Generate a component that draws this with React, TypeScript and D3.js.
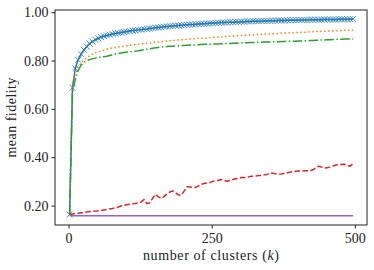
import React from "react";
import * as d3 from "d3";

const kValues = [
  1, 6, 11, 16, 21, 26, 31, 36, 41, 46,
  51, 56, 61, 66, 71, 76, 81, 86, 91, 96,
  101, 106, 111, 116, 121, 126, 131, 136, 141, 146,
  151, 156, 161, 166, 171, 176, 181, 186, 191, 196,
  201, 206, 211, 216, 221, 226, 231, 236, 241, 246,
  251, 256, 261, 266, 271, 276, 281, 286, 291, 296,
  301, 306, 311, 316, 321, 326, 331, 336, 341, 346,
  351, 356, 361, 366, 371, 376, 381, 386, 391, 396,
  401, 406, 411, 416, 421, 426, 431, 436, 441, 446,
  451, 456, 461, 466, 471, 476, 481, 486, 491, 496,
];

const blueSeries = [
  0.165, 0.690, 0.770, 0.805, 0.828, 0.846, 0.860, 0.872, 0.881, 0.888,
  0.894, 0.899, 0.903, 0.906, 0.909, 0.912, 0.914, 0.916, 0.918, 0.920,
  0.922, 0.924, 0.926, 0.927, 0.929, 0.930, 0.932, 0.933, 0.935, 0.936,
  0.938, 0.939, 0.940, 0.942, 0.943, 0.944, 0.945, 0.946, 0.947, 0.948,
  0.949, 0.950, 0.951, 0.951, 0.952, 0.953, 0.954, 0.954, 0.955, 0.956,
  0.957, 0.957, 0.958, 0.959, 0.959, 0.960, 0.961, 0.961, 0.962, 0.962,
  0.963, 0.963, 0.964, 0.964, 0.965, 0.965, 0.965, 0.966, 0.966, 0.966,
  0.967, 0.967, 0.967, 0.968, 0.968, 0.968, 0.969, 0.969, 0.969, 0.969,
  0.970, 0.970, 0.970, 0.970, 0.971, 0.971, 0.971, 0.971, 0.971, 0.972,
  0.972, 0.972, 0.972, 0.972, 0.973, 0.973, 0.973, 0.973, 0.973, 0.974,
];

const orangeSeries = [
  0.165, 0.700, 0.748, 0.775, 0.792, 0.805, 0.815, 0.822, 0.828, 0.834,
  0.838, 0.842, 0.845, 0.849, 0.852, 0.854, 0.856, 0.858, 0.860, 0.861,
  0.863, 0.865, 0.866, 0.868, 0.869, 0.871, 0.872, 0.874, 0.875, 0.876,
  0.878, 0.879, 0.880, 0.882, 0.883, 0.884, 0.885, 0.886, 0.887, 0.888,
  0.889, 0.890, 0.891, 0.892, 0.893, 0.894, 0.894, 0.895, 0.896, 0.897,
  0.898, 0.899, 0.899, 0.900, 0.901, 0.902, 0.903, 0.903, 0.904, 0.905,
  0.906, 0.906, 0.907, 0.908, 0.908, 0.909, 0.910, 0.911, 0.911, 0.912,
  0.912, 0.913, 0.914, 0.914, 0.915, 0.915, 0.916, 0.917, 0.917, 0.918,
  0.918, 0.919, 0.919, 0.920, 0.921, 0.921, 0.922, 0.922, 0.923, 0.923,
  0.924, 0.924, 0.925, 0.925, 0.926, 0.926, 0.927, 0.927, 0.928, 0.928,
];

const greenSeries = [
  0.165, 0.670, 0.725, 0.760, 0.783, 0.795, 0.801, 0.806, 0.810, 0.812,
  0.815, 0.817, 0.818, 0.820, 0.823, 0.826, 0.829, 0.831, 0.833, 0.835,
  0.837, 0.838, 0.840, 0.841, 0.843, 0.845, 0.847, 0.849, 0.851, 0.853,
  0.855, 0.856, 0.858, 0.859, 0.860, 0.861, 0.861, 0.862, 0.863, 0.864,
  0.864, 0.865, 0.866, 0.866, 0.867, 0.867, 0.868, 0.869, 0.869, 0.870,
  0.870, 0.871, 0.871, 0.872, 0.872, 0.873, 0.873, 0.874, 0.874, 0.875,
  0.875, 0.876, 0.876, 0.877, 0.877, 0.877, 0.878, 0.878, 0.879, 0.879,
  0.879, 0.880, 0.880, 0.880, 0.881, 0.881, 0.881, 0.882, 0.882, 0.882,
  0.883, 0.883, 0.884, 0.884, 0.885, 0.885, 0.886, 0.886, 0.887, 0.887,
  0.888, 0.888, 0.889, 0.889, 0.890, 0.890, 0.891, 0.891, 0.892, 0.892,
];

const redSeries = [
  0.165, 0.167, 0.169, 0.170, 0.172, 0.173, 0.175, 0.177, 0.178, 0.179,
  0.181, 0.182, 0.184, 0.186, 0.188, 0.190, 0.193, 0.196, 0.200, 0.203,
  0.205, 0.207, 0.209, 0.211, 0.213, 0.217, 0.227, 0.210, 0.214, 0.232,
  0.248, 0.238, 0.231, 0.240, 0.250, 0.258, 0.263, 0.255, 0.246, 0.245,
  0.262, 0.280, 0.279, 0.278, 0.277, 0.283, 0.290, 0.293, 0.296, 0.297,
  0.302, 0.304, 0.307, 0.310, 0.306, 0.303, 0.306, 0.310, 0.313, 0.315,
  0.318, 0.318, 0.319, 0.322, 0.323, 0.324, 0.326, 0.327, 0.329, 0.331,
  0.337, 0.336, 0.334, 0.332, 0.333, 0.336, 0.338, 0.340, 0.342, 0.344,
  0.345, 0.345, 0.346, 0.346, 0.346, 0.350, 0.358, 0.365, 0.361, 0.357,
  0.358, 0.362, 0.366, 0.370, 0.371, 0.372, 0.373, 0.367, 0.365, 0.376,
];

const purpleK = [1, 496];
const purpleSeries = [0.16, 0.16];

const xTicks = [0, 250, 500];
const yTicks = [0.2, 0.4, 0.6, 0.8, 1.0];

const xLabel = "number of clusters (";
const yLabel = "mean fidelity";

const W = 374;
const H = 270;
const L = 55, R = 367, T = 10, B = 225;
const FONT = "Liberation Serif, DejaVu Serif, serif";

export default function App() {
  const x = d3.scaleLinear().domain([-24.5, 520.3]).range([L, R]);
  const y = d3.scaleLinear().domain([0.1216, 1.0112]).range([B, T]);
  const fmt = d3.format(".2f");

  const mk = (ks: number[], vs: number[]) =>
    d3
      .line<number>()
      .x((_, i) => x(ks[i]))
      .y((v) => y(v))(vs) || "";

  const series = [
    { vals: blueSeries, ks: kValues, color: "#1f77b4", dash: undefined },
    { vals: orangeSeries, ks: kValues, color: "#ff7f0e", dash: "1.5,2.475" },
    { vals: greenSeries, ks: kValues, color: "#2ca02c", dash: "9.6,2.4,1.5,2.4" },
    { vals: redSeries, ks: kValues, color: "#d62728", dash: "5.55,2.4" },
    { vals: purpleSeries, ks: purpleK, color: "#9467bd", dash: undefined },
  ];

  const ms = 3;
  const textStyle = { fontFamily: FONT, fontSize: "14px" } as React.CSSProperties;

  return (
    <svg
      width={W}
      height={H}
      style={{ position: "absolute", left: 0, top: 0, background: "#fff" }}
    >
      <rect x={0} y={0} width={W} height={H} fill="#fff" />
      <defs>
        <clipPath id="plotclip">
          <rect x={L} y={T} width={R - L} height={B - T} />
        </clipPath>
      </defs>
      <g clipPath="url(#plotclip)">
        {series.map((s, si) => (
          <g key={si}>
            <path
              d={mk(s.ks, s.vals)}
              fill="none"
              stroke={s.color}
              strokeWidth={1.5}
              strokeDasharray={s.dash}
              strokeLinejoin="round"
            />
            {si === 0 &&
              s.vals.map((v, i) => {
                const cx = x(s.ks[i]);
                const cy = y(v);
                return (
                  <path
                    key={i}
                    d={`M${cx - ms},${cy - ms}L${cx + ms},${cy + ms}M${cx - ms},${cy + ms}L${cx + ms},${cy - ms}`}
                    stroke={s.color}
                    strokeWidth={0.8}
                    fill="none"
                  />
                );
              })}
          </g>
        ))}
      </g>
      <rect x={L} y={T} width={R - L} height={B - T} fill="none" stroke="#222" strokeWidth={1} />
      {yTicks.map((t) => (
        <g key={t}>
          <line x1={L - 3.5} x2={L} y1={y(t)} y2={y(t)} stroke="#222" strokeWidth={1} />
          <text x={L - 6.5} y={y(t) + 4.6} textAnchor="end" style={textStyle} fill="#222">
            {fmt(t)}
          </text>
        </g>
      ))}
      {xTicks.map((t) => (
        <g key={t}>
          <line x1={x(t)} x2={x(t)} y1={B} y2={B + 3.5} stroke="#222" strokeWidth={1} />
          <text x={x(t)} y={242.5} textAnchor="middle" style={textStyle} fill="#222">
            {t}
          </text>
        </g>
      ))}
      <text x={(L + R) / 2} y={259.5} textAnchor="middle" style={textStyle} fill="#222" textLength={136} lengthAdjust="spacing">
        {xLabel}
        <tspan fontStyle="italic">k</tspan>
        {")"}
      </text>
      <text
        transform={`translate(16,${(T + B) / 2}) rotate(-90)`}
        textAnchor="middle"
        style={textStyle}
        fill="#222"
        textLength={80}
        lengthAdjust="spacing"
      >
        {yLabel}
      </text>
    </svg>
  );
}
